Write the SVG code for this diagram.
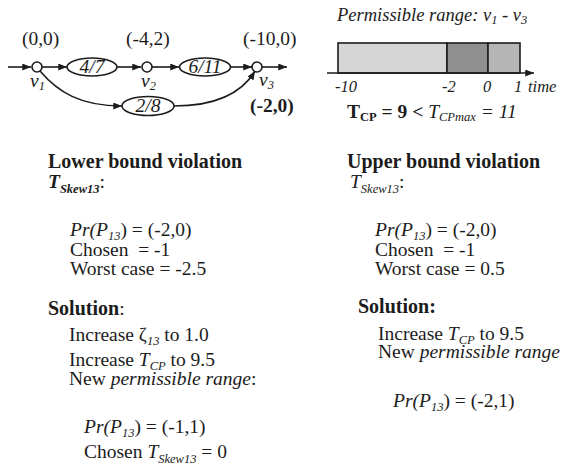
<svg xmlns="http://www.w3.org/2000/svg" width="564" height="468" viewBox="0 0 564 468">
<style>
text{font-family:"Liberation Serif","Times New Roman",serif;fill:#1c1c1c;font-size:19.5px}
.i{font-style:italic}
.b{font-weight:bold}
.h{font-weight:bold;font-size:20px}
.s{font-size:12.5px}
.sm{font-size:16.5px}
.t{font-size:18.5px}
.edge{fill:none;stroke:#1c1c1c;stroke-width:1.6}
.node{fill:#fff;stroke:#1c1c1c;stroke-width:1.6}
</style>
<defs>
<marker id="ah" viewBox="0 0 10 8" refX="10" refY="4" markerWidth="9" markerHeight="7" markerUnits="userSpaceOnUse" orient="auto">
<path d="M0,0 L10,4 L0,8 Z" fill="#1c1c1c"/>
</marker>
</defs>
<rect width="564" height="468" fill="#fff"/>

<!-- connectors -->
<g id="connectors">
<line class="edge" x1="8" y1="67" x2="31" y2="67" marker-end="url(#ah)"/>
<line class="edge" x1="42" y1="67" x2="67" y2="67" marker-end="url(#ah)"/>
<line class="edge" x1="117" y1="67" x2="141" y2="67" marker-end="url(#ah)"/>
<line class="edge" x1="152" y1="67" x2="179" y2="67" marker-end="url(#ah)"/>
<line class="edge" x1="230" y1="67" x2="252" y2="67" marker-end="url(#ah)"/>
<line class="edge" x1="262" y1="67" x2="287" y2="67" marker-end="url(#ah)"/>
<path class="edge" d="M40,71 C58,92 80,106 122,106" marker-end="url(#ah)"/>
<path class="edge" d="M174,106 C212,106 240,96 255,71" marker-end="url(#ah)"/>
</g>

<!-- nodes -->
<g id="v1">
<circle class="node" cx="37" cy="67" r="5"/>
<text x="30" y="87" class="i">v<tspan class="s" dy="3">1</tspan></text>
<text x="22" y="45">(0,0)</text>
</g>
<g id="e47">
<ellipse class="node" cx="92" cy="67" rx="25" ry="9"/>
<text x="92" y="73" class="i" text-anchor="middle">4/7</text>
</g>
<g id="v2">
<circle class="node" cx="147" cy="67" r="5"/>
<text x="141" y="87" class="i">v<tspan class="s" dy="3">2</tspan></text>
<text x="126" y="45">(-4,2)</text>
</g>
<g id="e611">
<ellipse class="node" cx="205" cy="67" rx="25.5" ry="9"/>
<text x="205" y="73" class="i" text-anchor="middle">6/11</text>
</g>
<g id="v3">
<circle class="node" cx="257" cy="67" r="5"/>
<text x="259" y="86" class="i">v<tspan class="s" dy="3">3</tspan></text>
<text x="243" y="45">(-10,0)</text>
<text x="250" y="112" class="b">(-2,0)</text>
</g>
<g id="e28">
<ellipse class="node" cx="148" cy="106" rx="26" ry="9.5"/>
<text x="148" y="112" class="i" text-anchor="middle">2/8</text>
</g>

<!-- permissible range chart -->
<g id="range">
<text x="337" y="21" class="i t">Permissible range: v<tspan class="s" dy="3">1</tspan><tspan dy="-3"> - v</tspan><tspan class="s" dy="3">3</tspan></text>
<rect x="338" y="43" width="109" height="30" fill="#d6d6d6" stroke="#1c1c1c" stroke-width="1.6"/>
<rect x="447" y="43" width="41" height="30" fill="#8f8f8f" stroke="#1c1c1c" stroke-width="1.6"/>
<rect x="488" y="43" width="32" height="30" fill="#b5b5b5" stroke="#1c1c1c" stroke-width="1.6"/>
<line class="edge" x1="327" y1="73" x2="534" y2="73" marker-end="url(#ah)"/>
<text x="335" y="92" class="i sm">-10</text>
<text x="442" y="92" class="i sm">-2</text>
<text x="483" y="92" class="i sm">0</text>
<text x="514" y="92" class="i sm">1</text>
<text x="528" y="92" class="i sm">time</text>
<text x="347" y="118"><tspan class="b">T</tspan><tspan class="b s" dy="3">CP</tspan><tspan class="b" dy="-3"> = 9 &lt; </tspan><tspan class="i">T</tspan><tspan class="i s" dy="3">CPmax</tspan><tspan class="i" dy="-3"> = 11</tspan></text>
</g>

<!-- left column -->
<g id="lower">
<text x="48" y="168" class="h">Lower bound violation</text>
<text x="48" y="188"><tspan class="b i">T</tspan><tspan class="b i s" dy="5">Skew13</tspan><tspan dy="-5">:</tspan></text>
<text x="70" y="236"><tspan class="i">Pr(P</tspan><tspan class="i s" dy="4">13</tspan><tspan dy="-4">) = (-2,0)</tspan></text>
<text x="70" y="256">Chosen&#160; = -1</text>
<text x="70" y="275">Worst case = -2.5</text>
<text x="48" y="315"><tspan class="h">Solution</tspan>:</text>
<text x="69" y="341">Increase ζ<tspan class="i s" dy="4">13</tspan><tspan dy="-4"> to 1.0</tspan></text>
<text x="69" y="366">Increase <tspan class="i">T</tspan><tspan class="i s" dy="4">CP</tspan><tspan dy="-4"> to 9.5</tspan></text>
<text x="69" y="385">New <tspan class="i">permissible range</tspan>:</text>
<text x="84" y="433"><tspan class="i">Pr(P</tspan><tspan class="i s" dy="4">13</tspan><tspan dy="-4">) = (-1,1)</tspan></text>
<text x="84" y="458">Chosen <tspan class="i">T</tspan><tspan class="i s" dy="5">Skew13</tspan><tspan dy="-5"> = 0</tspan></text>
</g>

<!-- right column -->
<g id="upper">
<text x="347" y="168" class="h">Upper bound violation</text>
<text x="350" y="188"><tspan class="i">T</tspan><tspan class="i s" dy="5">Skew13</tspan><tspan dy="-5">:</tspan></text>
<text x="375" y="236"><tspan class="i">Pr(P</tspan><tspan class="i s" dy="4">13</tspan><tspan dy="-4">) = (-2,0)</tspan></text>
<text x="375" y="256">Chosen&#160; = -1</text>
<text x="375" y="275">Worst case = 0.5</text>
<text x="358" y="313" class="h">Solution:</text>
<text x="378" y="340">Increase <tspan class="i">T</tspan><tspan class="i s" dy="4">CP</tspan><tspan dy="-4"> to 9.5</tspan></text>
<text x="378" y="358">New <tspan class="i">permissible range</tspan></text>
<text x="393" y="407"><tspan class="i">Pr(P</tspan><tspan class="i s" dy="4">13</tspan><tspan dy="-4">) = (-2,1)</tspan></text>
</g>
</svg>
